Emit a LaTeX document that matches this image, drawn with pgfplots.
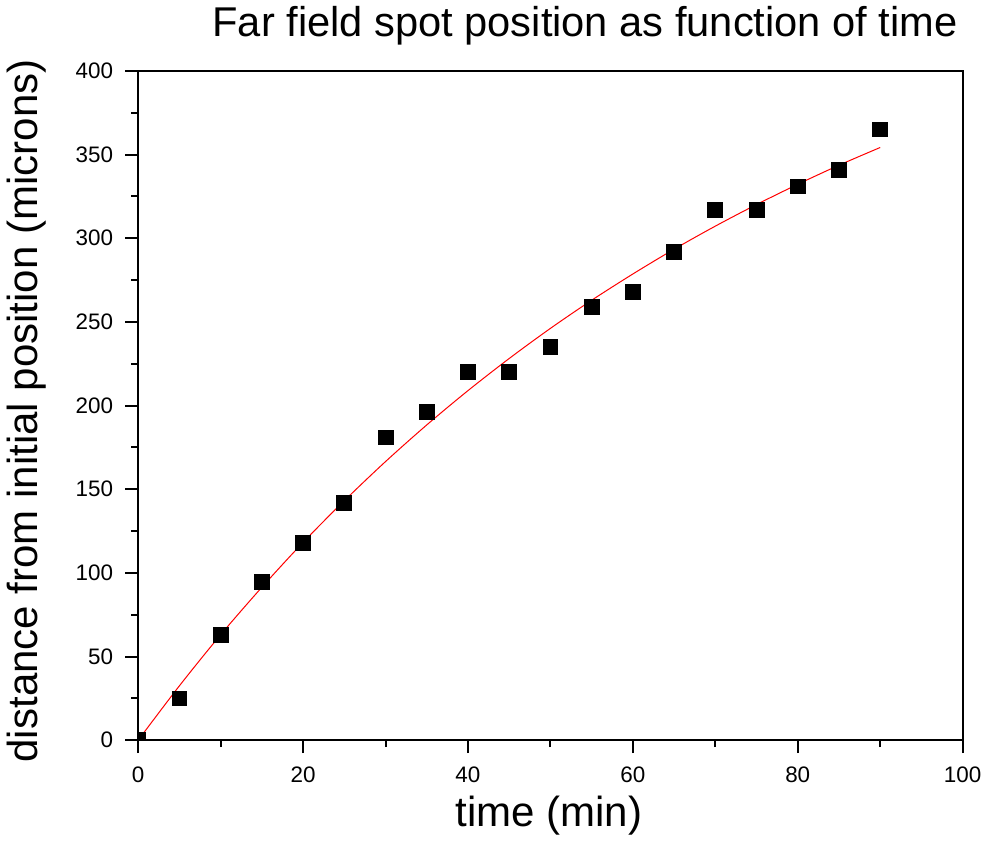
\documentclass[border=0pt]{standalone}
\usepackage{pgfplots}
\pgfplotsset{compat=1.18}
\usepackage{fontspec}
\setmainfont{Liberation Sans}
\begin{document}
\begin{tikzpicture}
\begin{axis}[
 scale only axis, width=412pt, height=334.5pt,
 xmin=0, xmax=100, ymin=0, ymax=400,
 xtick={0,20,...,100}, ytick={0,50,...,400},
 minor x tick num=1, minor y tick num=1,
 tick pos=left, tick align=outside,
 major tick length=6.5pt, minor tick length=3.5pt,
 axis line style={line width=1pt},
 every tick/.append style={line width=1pt, black},
 /pgf/number format/assume math mode=true,
 ticklabel style={font=\fontsize{11.2}{13}\selectfont},
 xticklabel style={yshift=-3.5pt},
 yticklabel style={xshift=-2.5pt},
 label style={font=\fontsize{21}{25}\selectfont},
 xlabel={time (min)},
 ylabel={distance from initial position (microns)},
 xlabel style={at={(rel axis cs:0.498,0)}, anchor=base, yshift=-43pt},
 ylabel style={at={(rel axis cs:0,0.492)}, anchor=base, yshift=50.5pt},
 title={Far field spot position as function of time},
 title style={font=\fontsize{20.8}{25}\selectfont, at={(rel axis cs:0.542,1)}, anchor=base, yshift=11pt},
 clip marker paths=true,
 axis on top,
]
\addplot[red, line width=0.5pt, smooth] coordinates {
(0,0) (5,32.5) (10,63.0) (15,91.4) (20,118.2) (25,143.1) (30,166.5) (35,188.4)
(40,208.9) (45,228.1) (50,246.1) (55,262.9) (60,278.6) (65,293.4) (70,307.2)
(75,320.1) (80,332.2) (85,343.6) (90,354.2)
};
\addplot[only marks, mark=square*, mark size=3.7pt, black] coordinates {
(0,0) (5,25) (10,63) (15,94.6) (20,118) (25,142) (30,181) (35,196) (40,220)
(45,220) (50,235) (55,259) (60,268) (65,292) (70,317) (75,317) (80,331)
(85,341) (90,365)
};
\end{axis}
\end{tikzpicture}
\end{document}
